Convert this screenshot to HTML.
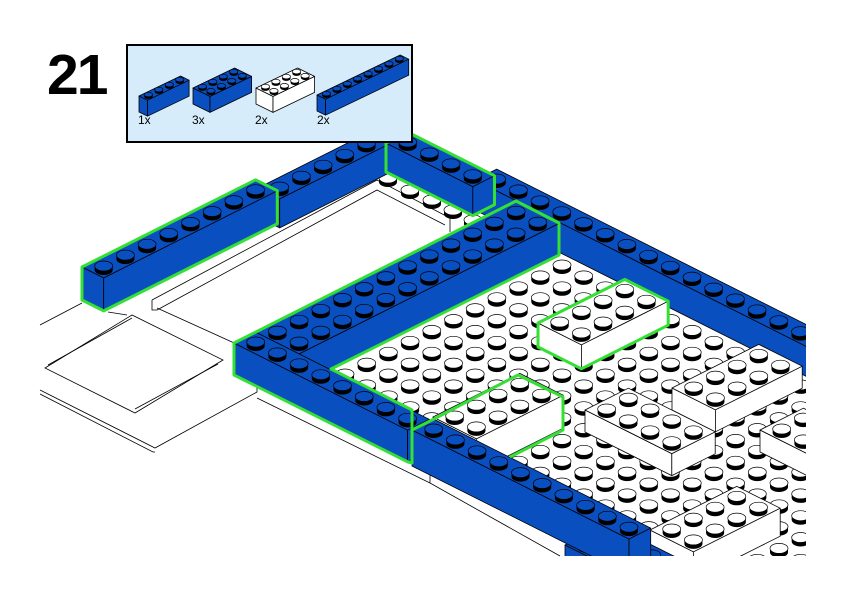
<!DOCTYPE html>
<html><head><meta charset="utf-8"><style>
html,body{margin:0;padding:0;background:#fff;width:842px;height:596px;overflow:hidden}
svg{display:block}
</style></head><body>
<svg id="s" width="842" height="596" viewBox="0 0 842 596" xmlns="http://www.w3.org/2000/svg">
<defs>
<clipPath id="mc"><rect x="0" y="0" width="806" height="556"/></clipPath>
<clipPath id="fc"><polygon points="330,372 563,255 563,226 600,235 806,340 806,556 640,556 412,440"/></clipPath>
</defs>
<g id="bg" fill="none" stroke="#000" stroke-width="0.8">
<polyline points="40,325 82,303"/>
<polyline points="40,390 155,448 257,392 257,380"/>
<polyline points="40,394 153,452 155,452"/>
<polyline points="257,398 430,483 560,556"/>
<polyline points="430,470 430,483"/>
<polygon points="45,368 132,315 223,360 135,413"/>
<polyline points="135,409 218,364"/>
<polyline points="48,365 132,318"/>
<polyline points="157,308 243,347 257,355"/>
<polyline points="152,300 377,180 450,218 450,232"/>
<polyline points="157,310 377,190 445,225"/>
<polyline points="152,300 152,310 157,310"/>
<polyline points="243,347 300,318 452,240"/>
<polyline points="108,312 127,315"/>
</g>
<g id="model" clip-path="url(#mc)"></g>
<rect x="127" y="45" width="285" height="97" fill="#d6ecfb" stroke="#000" stroke-width="2"/>
<g id="box"></g>
<g font-family="Liberation Sans, sans-serif" font-size="12" fill="#000">
<text x="138" y="124">1x</text><text x="192" y="124">3x</text><text x="255" y="124">2x</text><text x="317" y="124">2x</text>
</g>
<text x="47" y="94" font-family="Liberation Sans, sans-serif" font-weight="bold" font-size="57" letter-spacing="-2" fill="#000">21</text>
</svg>
<script>
var BLUE="#0a4fbf",WHITE="#ffffff",GREEN="#33e033";
var U=[21.7,-10.9],V=[21.7,10.9];
function pt(c,i,j,h,u,v){u=u||U;v=v||V;return [c[0]+i*u[0]+j*v[0], c[1]+i*u[1]+j*v[1]+h];}
function poly(ps,fill,stroke,sw){return '<polygon points="'+ps.map(function(p){return p[0].toFixed(1)+','+p[1].toFixed(1)}).join(' ')+'" fill="'+fill+'" stroke="'+(stroke||'#000')+'" stroke-width="'+(sw||0.8)+'" stroke-linejoin="round"/>';}
function stud(x,y,col,rx,ry,d){
 return '<rect x="'+(x-rx).toFixed(1)+'" y="'+y.toFixed(1)+'" width="'+(2*rx)+'" height="'+d+'" fill="#000"/>'+
 '<ellipse cx="'+x.toFixed(1)+'" cy="'+(y+d).toFixed(1)+'" rx="'+rx+'" ry="'+ry+'" fill="#000"/>'+
 '<ellipse cx="'+x.toFixed(1)+'" cy="'+y.toFixed(1)+'" rx="'+rx+'" ry="'+ry+'" fill="'+col+'" stroke="#000" stroke-width="0.7"/>';}
function brick(c,L,W,H,col,o){
 o=o||{};var u=o.u||U,v=o.v||V,rx=o.rx||9,ry=o.ry||5,d=o.d||4;
 var s='';
 var top=[pt(c,0,0,0,u,v),pt(c,L,0,0,u,v),pt(c,L,W,0,u,v),pt(c,0,W,0,u,v)];
 var lf=[pt(c,0,0,0,u,v),pt(c,0,W,0,u,v),pt(c,0,W,H,u,v),pt(c,0,0,H,u,v)];
 var rf=[pt(c,0,W,0,u,v),pt(c,L,W,0,u,v),pt(c,L,W,H,u,v),pt(c,0,W,H,u,v)];
 s+=poly(lf,col)+poly(rf,col)+poly(top,col);
 var st=[];
 if(!o.nostud)for(var i=0;i<L;i++)for(var j=0;j<W;j++){st.push(pt(c,i+.5,j+.5,0,u,v));}
 st.sort(function(a,b){return a[1]-b[1]});
 st.forEach(function(p){s+=stud(p[0],p[1]-1,col,rx,ry,d);});
 return s;}
function outline(c,L,W,H){
 var ps=[pt(c,0,0,0),pt(c,L,0,0),pt(c,L,W,0),pt(c,L,W,H),pt(c,0,W,H),pt(c,0,0,H)];
 return poly(ps,'none',GREEN,3);}
var m='';
var fl=[];
for(var i=-25;i<25;i++)for(var j=-25;j<25;j++){var x=562+21.7*(i+j),y=265-10.9*i+10.9*j;if(x>300&&x<830&&y>200&&y<580)fl.push([x,y]);}
fl.sort(function(a,b){return a[1]-b[1]});
m+='<g clip-path="url(#fc)">';fl.forEach(function(p){m+=stud(p[0],p[1],WHITE,9,5,4);});m+='</g>';
[[388,178],[410,190],[432,200],[453,210],[473,220]].forEach(function(p){m+=stud(p[0],p[1],WHITE,9,5,4);});
m+=brick([258,188],6,1,29,BLUE);
m+=brick([82,267],8,1,33,BLUE);
m+=brick([475,180],1,16,30,BLUE);
m+=brick([386,143],1,4,29,BLUE);
m+=brick([672,388],4,2,22,WHITE);
m+=brick([760,430],2,3,22,WHITE);
m+=brick([585,410],2,4,22,WHITE);
m+=brick([650,530],4,2,28,WHITE);
m+=brick([565,545],2,4,30,BLUE);
m+=brick([234,343],13,2,32,BLUE);
m+=brick([234,343],1,8,32,BLUE);
m+=brick([538,323],4,2,24,WHITE);
m+=brick([433,417],4,2,33,WHITE);
m+=brick([412,430],1,10,36,BLUE);
m+=outline([82,267],8,1,33);
m+=outline([386,143],1,4,29);
m+=outline([538,323],4,2,24);
m+=poly([[234,343],[516,201],[559,223],[559,255],[331,369],[412,410],[412,463],[408,462],[234,375]],'none',GREEN,3);
m+='<polyline points="412,463 412,430 434,419 518,375 563,397 563,430 510,457" fill="none" stroke="'+GREEN+'" stroke-width="3" stroke-linejoin="round"/>';
document.getElementById('model').innerHTML=m;
var bu=[10.4,-5],bv=[8.5,4.2],bo={u:bu,v:bv,rx:4.2,ry:2.3,d:2};
var b='';
b+=brick([139,96],4,1,16,BLUE,bo);
b+=brick([193,88],4,2,16,BLUE,bo);
b+=brick([256,88],4,2,16,WHITE,bo);
b+=brick([317,95],8,1,16,BLUE,bo);
document.getElementById('box').innerHTML=b;
</script>
</body></html>
